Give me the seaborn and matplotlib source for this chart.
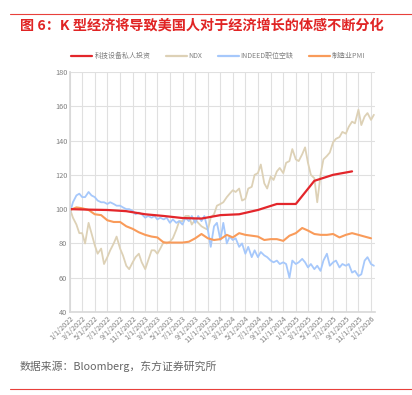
import matplotlib

matplotlib.use("Agg")

import matplotlib.dates as mdates
import pandas as pd
import seaborn as sns
from matplotlib import pyplot as plt
from matplotlib.lines import Line2D

# semi-monthly observation dates (1st and 15th), Jan 2022 .. Jan 2026
half_month = [pd.Timestamp(y, m, d) for y in range(2022, 2026) for m in range(1, 13) for d in (1, 15)]
half_month += [pd.Timestamp(2026, 1, 1), pd.Timestamp(2026, 1, 15)]

ndx = [
    100, 95, 91, 86, 86, 80, 92, 86, 79, 74, 77, 68, 72, 76, 80, 84, 77, 73, 67, 65, 69, 72, 74, 69,
    65, 70, 76, 76, 74, 77, 81, 80, 81, 83, 88, 93, 93, 96, 96, 91, 94, 92, 90, 89, 88, 95, 97, 102,
    103, 104, 107, 109, 111, 110, 112, 105, 106, 112, 113, 120, 121, 126, 115, 112, 119, 117, 122, 124, 121, 127, 128, 135,
    129, 128, 132, 136, 127, 120, 118, 104, 120, 129, 131, 133, 139, 141, 142, 145, 144, 148, 151, 150, 158, 149, 154, 156,
    152, 155,
]

indeed = [
    98, 104, 108, 109, 107, 107, 110, 108, 107, 105, 104, 104, 103, 104, 103, 102, 102, 101, 100, 100, 99, 97, 98, 97,
    95, 96, 95, 96, 94, 95, 94, 95, 92, 94, 92, 93, 91, 95, 93, 96, 92, 96, 93, 96, 88, 78, 90, 92,
    82, 92, 80, 84, 82, 83, 78, 80, 74, 78, 72, 76, 72, 75, 73, 72, 70, 69, 70, 68, 69, 68, 60, 70,
    68, 69, 71, 69, 66, 68, 65, 67, 64, 70, 74, 67, 69, 70, 66, 68, 67, 68, 63, 64, 61, 62, 70, 72,
    68, 67,
]

# monthly manufacturing PMI, rebased
pmi_dates = [pd.Timestamp(y, m, 1) for y in range(2022, 2026) for m in range(1, 13)] + [pd.Timestamp(2026, 1, 1)]
pmi = [
    99.5, 101, 100.5, 99.5, 97, 96.5, 93.5, 92.5, 92.5, 90, 88.5, 86.5,
    85, 84, 83.5, 80.5, 80.5, 80.5, 80.5, 81, 83, 85.5, 83, 82,
    82.5, 85, 83.5, 86, 85, 84.5, 84, 82, 82.5, 82.5, 81.5, 84.5,
    86, 89, 87.5, 85.5, 85, 85, 85.5, 83.5, 85, 86, 85, 84,
    83,
]

# quarterly private investment in tech equipment, rebased
inv_dates = [pd.Timestamp(y, m, 1) for y in range(2022, 2026) for m in (1, 4, 7, 10)]
investment = [100, 99.7, 99.5, 98.8, 97, 96, 94.8, 94.5, 96.5, 97, 99.5, 103, 103, 116.5, 120, 122]

labels = ["科技设备私人投资", "NDX", "INDEED职位空缺", "制造业PMI"]
colors = ["#e3262b", "#ddd1b6", "#a6c8fb", "#f99b5a"]

sns.set_theme(style="white")
plt.rcParams["font.family"] = ["Noto Sans CJK SC", "DejaVu Sans"]

fig = plt.figure(figsize=(4.12, 3.95), dpi=100)
ax = fig.add_axes([0.170, 0.210, 0.740, 0.608])

sns.lineplot(x=half_month, y=ndx, color=colors[1], linewidth=1.3, ax=ax)
sns.lineplot(x=half_month, y=indeed, color=colors[2], linewidth=1.3, ax=ax)
sns.lineplot(x=pmi_dates, y=pmi, color=colors[3], linewidth=1.5, ax=ax)
sns.lineplot(x=inv_dates, y=investment, color=colors[0], linewidth=1.6, ax=ax)

ax.set_ylim(40, 180)
ax.set_yticks(range(40, 181, 20))
ax.set_xlim(pd.Timestamp(2022, 1, 1), pd.Timestamp(2026, 1, 20))
ax.xaxis.set_major_locator(mdates.MonthLocator(bymonth=range(1, 13, 2)))
ax.xaxis.set_major_formatter(
    matplotlib.ticker.FuncFormatter(lambda v, _: "{d.month}/1/{d.year}".format(d=mdates.num2date(v)))
)
ax.grid(True, color="#e0e0e0", linewidth=0.8)
for side in ["top", "right"]:
    ax.spines[side].set_visible(False)
ax.spines["left"].set_color("#d9d9d9")
ax.spines["bottom"].set_color("#d9d9d9")
ax.tick_params(axis="both", labelsize=5.3, colors="#808080", length=0, pad=2)
plt.setp(ax.get_xticklabels(), rotation=45, ha="right", rotation_mode="anchor")
ax.set_xlabel("")
ax.set_ylabel("")

handles = [Line2D([], [], color=c, linewidth=1.6) for c in colors]
fig.legend(handles, labels, loc="center", bbox_to_anchor=(0.53, 0.858), ncol=4, frameon=False,
           fontsize=5, labelcolor="#7f7f7f", handlelength=3, handletextpad=0.3, columnspacing=2.2)

# header and footer
fig.add_artist(Line2D([0.025, 1.0], [0.965, 0.965], color="#e8403b", linewidth=0.8))
fig.text(0.048, 0.936, "图 6：K 型经济将导致美国人对于经济增长的体感不断分化", color="#e02424",
         fontsize=10.2, fontweight="bold", va="center", ha="left")
fig.text(0.048, 0.073, "数据来源：Bloomberg，东方证券研究所", color="#666666", fontsize=7.8,
         va="center", ha="left")
fig.add_artist(Line2D([0.025, 1.0], [0.016, 0.016], color="#e8403b", linewidth=0.8))

fig.savefig("out.png", dpi=100)
